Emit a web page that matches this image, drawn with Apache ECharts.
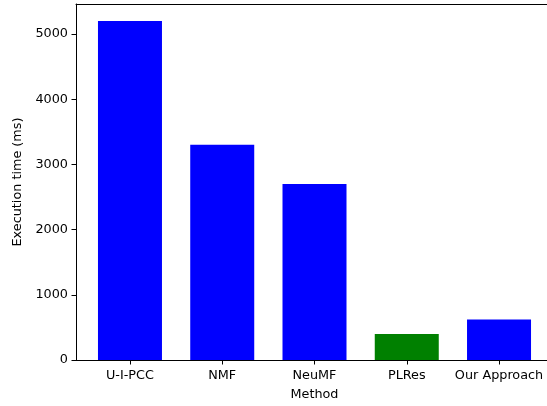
<!DOCTYPE html>
<html>
<head>
<meta charset="utf-8">
<script src="https://cdn.jsdelivr.net/npm/echarts@6/dist/echarts.min.js"></script>
<style>html,body{margin:0;padding:0;background:#fff;overflow:hidden;}#c{width:547px;height:406px;}</style>
</head>
<body>
<div id="c"></div>
<script>
const categories = ['U-I-PCC', 'NMF', 'NeuMF', 'PLRes', 'Our Approach'];
const values = [5200, 3300, 2700, 400, 620];
const colors = ['#0000ff', '#0000ff', '#0000ff', '#008000', '#0000ff'];
const yTicks = [0, 1000, 2000, 3000, 4000, 5000];

const font = 'DejaVu Sans';
const chart = echarts.init(document.getElementById('c'), null, {renderer: 'canvas'});
const idx = categories.map((_, i) => i);
chart.setOption({
  animation: false,
  backgroundColor: '#fff',
  grid: {left: 76, top: 4, width: 477, bottom: 46, outerBoundsMode: 'none', containLabel: false, show: false},
  xAxis: [{
    type: 'value', min: -0.585, max: 4.585,
    name: 'Method', nameLocation: 'middle', nameGap: 28,
    nameTextStyle: {fontFamily: font, fontSize: 12.8, color: '#000'},
    axisLine: {show: true, onZero: false, lineStyle: {color: '#000', width: 1}},
    axisTick: {show: true, length: 4.5, lineStyle: {color: '#000'}, customValues: idx},
    axisLabel: {fontFamily: font, fontSize: 12.8, color: '#000', margin: 9, customValues: idx, formatter: v => categories[Math.round(v)]},
    splitLine: {show: false}
  }, {
    type: 'value', position: 'top', min: -0.585, max: 4.585,
    axisLine: {show: true, onZero: false, lineStyle: {color: '#000', width: 1}},
    axisTick: {show: false}, axisLabel: {show: false}, splitLine: {show: false}
  }],
  yAxis: {
    type: 'value', min: 0, max: values.reduce((a, b) => Math.max(a, b)) * 1.05,
    name: 'Execution time (ms)', nameLocation: 'middle', nameGap: 38,
    nameTextStyle: {fontFamily: font, fontSize: 12.8, color: '#000'},
    axisLine: {show: true, onZero: false, lineStyle: {color: '#000', width: 1}},
    axisTick: {show: true, length: 4.5, lineStyle: {color: '#000'}, customValues: yTicks},
    axisLabel: {fontFamily: font, fontSize: 12.8, color: '#000', margin: 8, customValues: yTicks, formatter: v => String(v)},
    splitLine: {show: false}
  },
  series: [{
    type: 'bar',
    barWidth: 64,
    data: values.map((v, i) => ({value: [i, v], itemStyle: {color: colors[i]}}))
  }]
});
</script>
</body>
</html>
